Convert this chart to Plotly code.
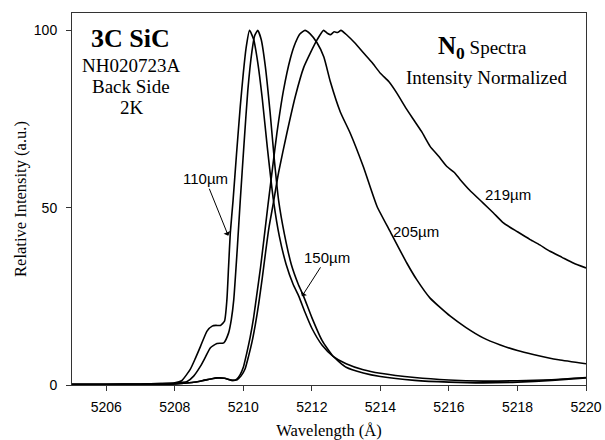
import plotly.graph_objects as go

# ---- data ----
x_110 = [5205.0, 5206.0, 5207.0, 5207.6, 5208.0, 5208.2, 5208.45, 5208.6, 5208.75, 5208.94,
         5209.09, 5209.2, 5209.33, 5209.45, 5209.52, 5209.57, 5209.62, 5209.7, 5209.8, 5209.91,
         5210.0, 5210.08, 5210.18, 5210.3, 5210.42, 5210.55, 5210.7, 5210.88, 5211.05, 5211.25,
         5211.45, 5211.62, 5211.8, 5212.0, 5212.3, 5212.62, 5213.0, 5213.5, 5214.0, 5215.0,
         5216.0, 5217.0, 5218.0, 5219.0, 5220.0]
y_110 = [0.2, 0.2, 0.3, 0.4, 0.6, 1.2, 4.4, 7.5, 10.9, 15.2,
         16.6, 16.8, 16.8, 18.0, 24.0, 33.5, 42.9, 52.0, 65.0, 78.5,
         88.0, 95.0, 100.0, 97.5, 91.0, 81.0, 67.0, 52.0, 42.0, 34.0,
         28.5, 25.0, 20.5, 16.0, 11.2, 8.1, 6.0, 4.3, 3.3, 2.1,
         1.4, 1.1, 1.2, 1.5, 2.1]

x_150 = [5205.0, 5206.0, 5207.0, 5207.6, 5208.0, 5208.36, 5208.55, 5208.75, 5208.9, 5209.04,
         5209.23, 5209.43, 5209.57, 5209.65, 5209.72, 5209.82, 5209.91, 5210.02, 5210.13, 5210.25,
         5210.33, 5210.42, 5210.52, 5210.64, 5210.78, 5210.9, 5211.03, 5211.2, 5211.4, 5211.6,
         5211.76, 5212.0, 5212.3, 5212.62, 5213.0, 5213.5, 5214.0, 5215.0, 5216.0, 5217.0,
         5218.0, 5219.0, 5220.0]
y_150 = [0.2, 0.2, 0.3, 0.4, 0.5, 1.0, 2.5, 5.3, 8.0, 10.5,
         11.7, 11.9, 14.7, 18.5, 24.0, 38.0, 52.0, 68.0, 83.0, 94.0,
         98.5, 100.0, 97.5, 90.0, 77.0, 64.0, 52.0, 42.5, 34.0, 28.5,
         25.0, 19.0, 12.5, 8.1, 5.0, 3.4, 2.4, 1.3, 0.8, 0.6,
         0.8, 1.3, 2.0]

x_205 = [5205.0, 5206.0, 5207.0, 5208.0, 5208.5, 5208.8, 5209.05, 5209.25, 5209.45, 5209.68,
         5209.8, 5209.9, 5210.0, 5210.1, 5210.2, 5210.3, 5210.4, 5210.5, 5210.6, 5210.71,
         5210.85, 5210.98, 5211.17, 5211.37, 5211.52, 5211.65, 5211.8, 5211.95, 5212.15, 5212.35,
         5212.54, 5212.83, 5213.12, 5213.5, 5213.9, 5214.3, 5214.77, 5215.06, 5215.45, 5216.04,
         5216.5, 5217.0, 5217.5, 5218.0, 5218.46, 5219.2, 5220.0]
y_205 = [0.1, 0.1, 0.15, 0.3, 0.7, 1.2, 1.7, 2.0, 1.9, 1.3,
         1.6, 2.8, 5.0, 9.0, 13.5, 19.0, 26.0, 33.0, 41.0, 50.0,
         61.0, 71.0, 83.0, 92.0, 96.5, 99.0, 100.0, 99.0, 96.5, 92.5,
         85.5, 77.0, 71.0, 61.6, 50.4, 43.0, 34.4, 29.7, 24.5, 19.4,
         16.2, 13.3, 11.3, 9.7, 8.6, 7.1, 6.0]

x_219 = [5205.0, 5206.0, 5207.0, 5208.0, 5208.5, 5208.8, 5209.05, 5209.25, 5209.45, 5209.68,
         5209.82, 5209.93, 5210.05, 5210.15, 5210.25, 5210.35, 5210.45, 5210.55, 5210.65, 5210.75,
         5210.87, 5211.03, 5211.27, 5211.52, 5211.76, 5211.95, 5212.15, 5212.34, 5212.45, 5212.55,
         5212.65, 5212.75, 5212.85, 5213.02, 5213.25, 5213.51, 5213.75, 5214.0, 5214.25, 5214.48,
         5214.75, 5214.97, 5215.2, 5215.45, 5215.7, 5215.94, 5216.15, 5216.33, 5216.6, 5217.0,
         5217.3, 5217.59, 5218.0, 5218.37, 5218.65, 5218.95, 5219.3, 5219.63, 5220.0]
y_219 = [0.1, 0.1, 0.15, 0.3, 0.7, 1.2, 1.7, 2.0, 1.9, 1.3,
         1.5, 2.5, 4.5, 8.0, 12.0, 17.0, 23.0, 30.0, 37.5, 44.5,
         51.0, 60.0, 71.0, 81.5, 89.5, 93.5, 97.3, 100.0, 99.2, 98.8,
         99.6, 99.4, 100.0, 98.7, 96.5, 93.6, 91.0, 87.9, 85.5, 82.3,
         78.0, 74.8, 71.5, 67.3, 64.5, 61.6, 60.0, 57.9, 55.0, 51.3,
         48.5, 45.7, 43.2, 41.0, 39.5, 37.7, 36.0, 34.4, 33.0]

x_ticks = [5206, 5208, 5210, 5212, 5214, 5216, 5218, 5220]
y_ticks = [0, 50, 100]

series = [("110µm", x_110, y_110), ("150µm", x_150, y_150),
          ("205µm", x_205, y_205), ("219µm", x_219, y_219)]

fig = go.Figure()
for name, xs, ys in series:
    fig.add_trace(go.Scatter(x=xs, y=ys, mode="lines", name=name,
                             line=dict(color="black", width=1.6, shape="spline", smoothing=0.5),
                             showlegend=False, hoverinfo="skip"))

serif = "Liberation Serif, Times New Roman, serif"
sans = "Liberation Sans, Arial, sans-serif"

axis_common = dict(showline=True, linecolor="#333", linewidth=1, mirror=True,
                   ticks="outside", ticklen=5, tickcolor="#333", showgrid=False,
                   zeroline=False, tickfont=dict(family=sans, size=14, color="black"))

fig.update_xaxes(range=[5205, 5220], tickvals=x_ticks, ticktext=[str(v) for v in x_ticks],
                 title=dict(text="Wavelength (Å)", font=dict(family=serif, size=16.5, color="black"),
                            standoff=12),
                 ticklabelstandoff=4,
                 **axis_common)
fig.update_yaxes(range=[0, 104.9], tickvals=y_ticks, ticktext=[str(v) for v in y_ticks],
                 title=dict(text="Relative Intensity (a.u.)", font=dict(family=serif, size=16.5, color="black"),
                            standoff=3),
                 ticklabelstandoff=6,
                 **axis_common)

ann = []
def txt(x, y, t, size, fam=serif):
    ann.append(dict(x=x, y=y, xref="x", yref="y", text=t, showarrow=False,
                    font=dict(family=fam, size=size, color="black"),
                    xanchor="center", yanchor="middle"))

txt(5206.71, 97.6, "<b>3C SiC</b>", 26)
txt(5206.73, 90.0, "NH020723A", 19)
txt(5206.73, 84.1, "Back Side", 19)
txt(5206.75, 78.2, "2K", 19)
txt(5216.97, 95.1, "<span style='font-size:25px'><b>N<sub>0</sub></b></span> Spectra", 19)
txt(5217.1, 86.6, "Intensity Normalized", 19)

txt(5215.04, 43.3, "205µm", 15, sans)
txt(5217.72, 53.7, "219µm", 15, sans)

# labels with arrows pointing at the curves
ann.append(dict(x=5209.56, y=42.1, xref="x", yref="y", ax=-23, ay=-57, text="110µm",
                font=dict(family=sans, size=15, color="black"),
                showarrow=True, arrowhead=1, arrowsize=1.2, arrowwidth=1, arrowcolor="black"))
ann.append(dict(x=5211.71, y=25.0, xref="x", yref="y", ax=25, ay=-39, text="150µm",
                font=dict(family=sans, size=15, color="black"),
                showarrow=True, arrowhead=1, arrowsize=1.2, arrowwidth=1, arrowcolor="black"))

fig.update_layout(width=605, height=440, margin=dict(l=72, r=19, t=13, b=55, autoexpand=False),
                  paper_bgcolor="white", plot_bgcolor="white", annotations=ann)

# remove the default page margin so the figure fills the 605x440 window exactly
fig.write_html("out.html", config={"displayModeBar": False},
               post_script="document.body.style.margin='0';")
